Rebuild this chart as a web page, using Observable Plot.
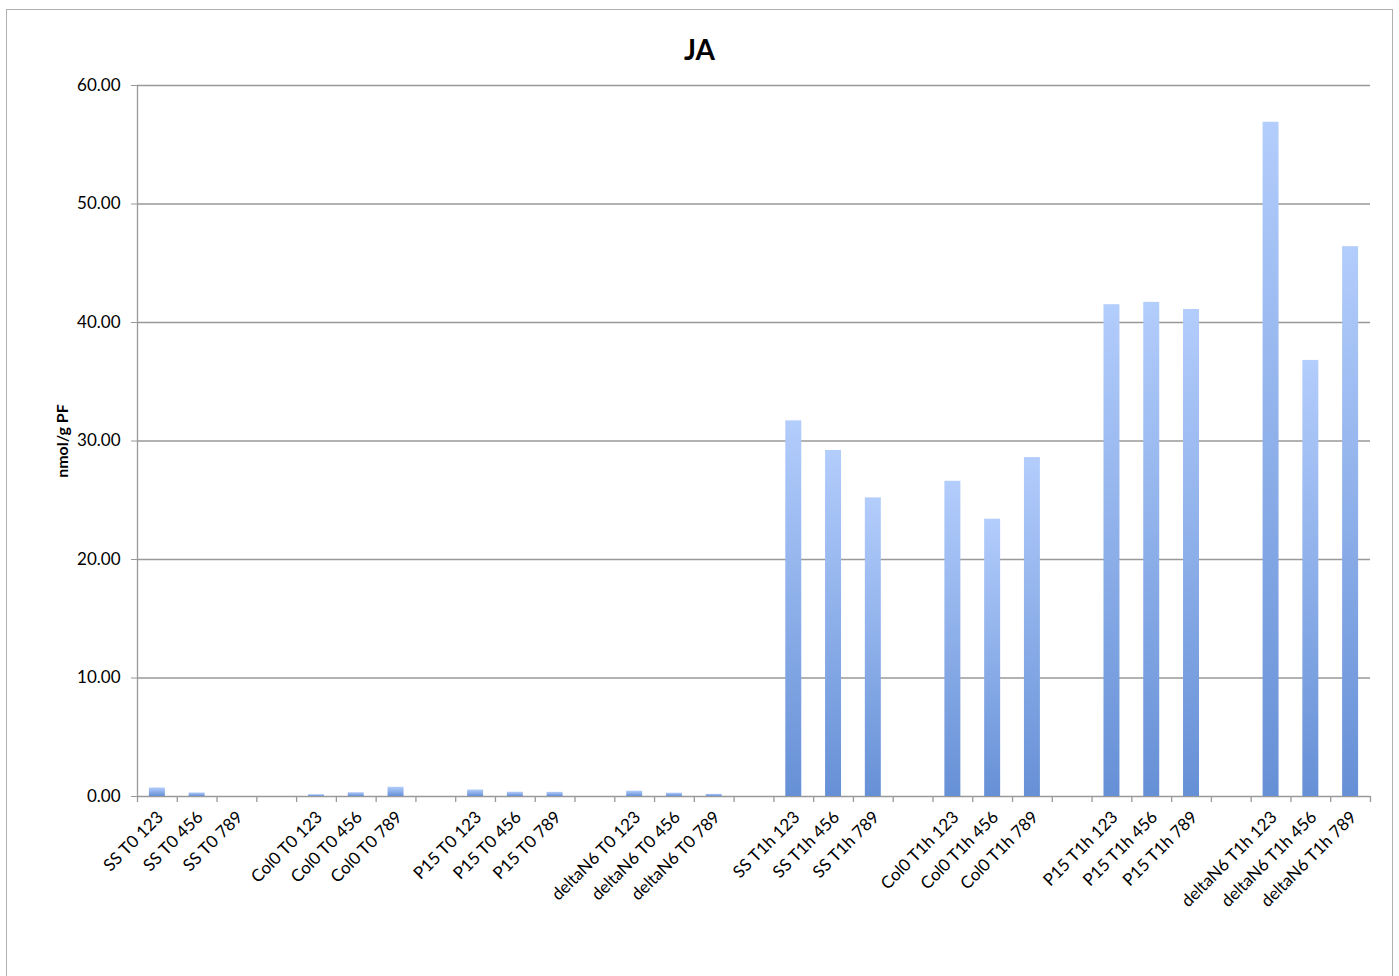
<!DOCTYPE html>
<html><head><meta charset="utf-8">
<script src="https://cdn.jsdelivr.net/npm/d3@7"></script>
<script src="https://cdn.jsdelivr.net/npm/@observablehq/plot@0.6"></script>
<style>
body{margin:0;background:#fff;font-family:Lato,"Open Sans",sans-serif;}
#frame{position:absolute;left:6px;top:9px;width:1385px;height:1000px;border:1px solid #b0b0b0;pointer-events:none;}
#title{position:absolute;left:0;width:1399px;top:32px;text-align:center;font-weight:bold;font-size:28px;color:#000;}
#chart{position:absolute;left:0;top:70px;}
</style></head><body>
<div id="chart"></div>
<div id="title">JA</div>
<div id="frame"></div>
<script>
const groups = ["SS T0", "Col0 T0", "P15 T0", "deltaN6 T0", "SS T1h", "Col0 T1h", "P15 T1h", "deltaN6 T1h"];
const replicates = ["123", "456", "789"];
const values = [
  0.72, 0.30, 0.00,
  0.15, 0.32, 0.78,
  0.55, 0.36, 0.35,
  0.45, 0.28, 0.18,
  31.7, 29.2, 25.2,
  26.6, 23.4, 28.6,
  41.5, 41.7, 41.1,
  56.9, 36.8, 46.4
];
const yTicks = [0, 10, 20, 30, 40, 50, 60];
const yLabel = "nmol/g PF";

// build band domain with a blank slot between groups
const domain = [];
const data = [];
groups.forEach((g, gi) => {
  replicates.forEach((r, ri) => {
    const cat = `${g} ${r}`;
    domain.push(cat);
    data.push({cat, value: values[gi * 3 + ri]});
  });
  if (gi < groups.length - 1) domain.push(`gap-${gi}`);
});
const labelOf = d => d.startsWith("gap-") ? "" : d;

const W = 1399, ML = 137, MR = 29, MT = 15, MB = 130, H = 856;
const step = (W - ML - MR) / domain.length;
const plotH = H - MT - MB;

const defs = () => {
  const g = d3.create("svg:defs");
  const lg = g.append("linearGradient").attr("id", "barGrad").attr("x1", 0).attr("y1", 0).attr("x2", 0).attr("y2", 1);
  lg.append("stop").attr("offset", "0%").attr("stop-color", "#b3cdfc");
  lg.append("stop").attr("offset", "100%").attr("stop-color", "#6690d6");
  const f = g.append("filter").attr("id", "shadow").attr("x", "-50%").attr("y", "-10%").attr("width", "200%").attr("height", "120%");
  f.append("feDropShadow").attr("dx", 0).attr("dy", 0).attr("stdDeviation", 1.2).attr("flood-color", "#000").attr("flood-opacity", 0.18);
  return g.node();
};

const chart = Plot.plot({
  width: W, height: H,
  marginLeft: ML, marginRight: MR, marginTop: MT, marginBottom: MB,
  style: {background: "transparent", fontFamily: "Lato, 'Open Sans', sans-serif", fontSize: "16px", color: "#000"},
  x: {type: "band", domain, padding: 0, round: false},
  y: {domain: [0, 60], ticks: yTicks},
  marks: [
    defs,
    Plot.ruleY(yTicks, {stroke: "#999", strokeWidth: 1.3}),
    Plot.ruleX([domain[0]], {dx: -step / 2, stroke: "#999", strokeWidth: 1.3}),
    Plot.ruleX(domain, {dx: -step / 2, stroke: "#999", strokeWidth: 1.3, insetTop: plotH, insetBottom: -6}),
    Plot.ruleX([domain[domain.length - 1]], {dx: step / 2, stroke: "#999", strokeWidth: 1.3, insetTop: plotH, insetBottom: -6}),
    Plot.barY(data, {x: "cat", y: "value", fill: "url(#barGrad)", insetLeft: 11.9, insetRight: 11.9, filter: d => d.value > 0, style: "filter:url(#shadow)"}),
    Plot.axisY({ticks: yTicks, tickFormat: d => d.toFixed(2), tickSize: 6, tickPadding: 11, stroke: "#999", fontSize: 17, label: null}),
    Plot.axisX({tickSize: 0, tickRotate: -45, tickPadding: 18, dx: 3, tickFormat: labelOf, fontSize: 17, label: null}),
    Plot.text([yLabel], {text: d => d, frameAnchor: "left", textAnchor: "middle", dx: -75, rotate: -90, fontWeight: "bold", fontSize: 16})
  ]
});
document.getElementById("chart").appendChild(chart);
</script>
</body></html>
